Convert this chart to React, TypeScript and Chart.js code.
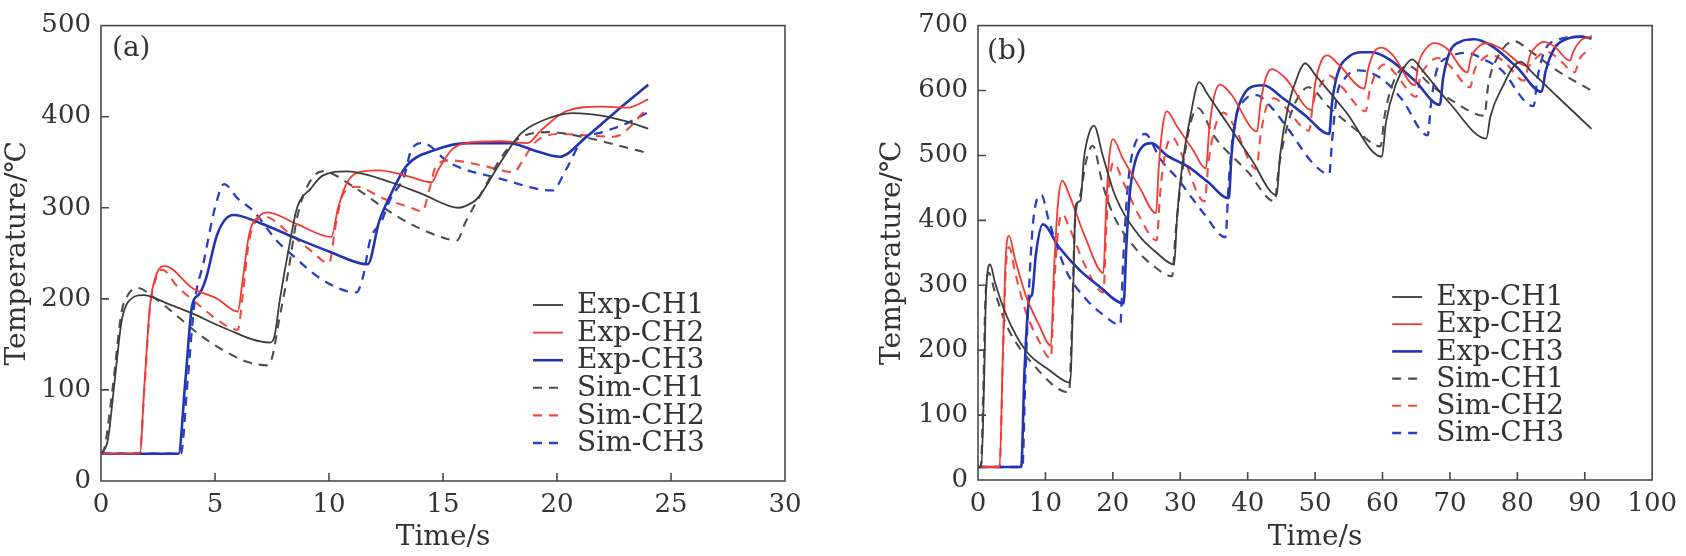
import React, { useEffect, useRef } from "react";
import { Chart, registerables } from "chart.js";

Chart.register(...registerables);

// ---------- Panel (a) data: time (s) / temperature (°C) ----------
const aExp1Time = [0, 0.3, 0.6, 0.9, 1.2, 1.85, 3.0, 4.0, 5.4, 7.4, 7.6, 7.85, 8.3, 8.6, 9.2, 9.7, 10.8, 12.7, 14.1, 15.7, 16.0, 16.5, 17.5, 18.4, 19.3, 20.7, 22.0, 23.0, 24.0];
const aExp1Temp = [30, 45, 110, 175, 197, 204, 194, 184, 168, 152, 158, 200, 264, 300, 321, 335, 340, 328, 315, 300, 302, 310, 349, 381, 395, 404, 401, 395, 387];

const aExp2Time = [0, 1.7, 1.9, 2.15, 2.45, 2.8, 4.0, 5.1, 6.0, 6.2, 6.5, 7.0, 7.3, 8.6, 10.1, 10.4, 10.8, 11.5, 12.2, 13.4, 14.5, 14.8, 15.4, 16.0, 17.5, 18.7, 19.3, 20.4, 21.9, 23.1, 24.0];
const aExp2Temp = [30, 30, 104, 193, 228, 236, 212, 200, 186, 218, 271, 292, 295, 282, 268, 300, 328, 340, 341, 335, 328, 342, 364, 371, 373, 371, 385, 406, 411, 410, 419];

const aExp3Time = [0, 3.4, 3.7, 4.0, 4.3, 4.6, 5.1, 5.8, 7.0, 8.5, 10.0, 11.7, 12.2, 12.7, 13.4, 14.6, 16.1, 17.9, 19.0, 20.1, 21.3, 22.6, 24.0];
const aExp3Temp = [30, 30, 110, 193, 205, 222, 271, 292, 283, 267, 252, 238, 285, 314, 346, 363, 371, 371, 363, 356, 378, 406, 435];

const aSim1Time = [0, 0.1, 0.5, 0.9, 1.2, 1.6, 2.3, 3.3, 4.3, 5.4, 6.4, 7.3, 7.5, 7.8, 8.2, 8.6, 9.0, 9.7, 11.2, 12.4, 13.6, 14.9, 15.6, 16.0, 16.8, 17.5, 18.2, 19.7, 21.1, 22.6, 24.0];
const aSim1Temp = [30, 32, 100, 185, 205, 212, 202, 182, 161, 143, 131, 127, 135, 175, 228, 289, 321, 340, 321, 300, 282, 268, 264, 285, 321, 353, 374, 383, 378, 369, 360];

const aSim2Time = [0, 1.7, 1.9, 2.15, 2.45, 2.7, 3.3, 4.3, 5.4, 6.0, 6.2, 6.5, 7.0, 7.2, 8.3, 9.2, 10.0, 10.3, 10.6, 11.2, 12.4, 13.6, 14.1, 14.4, 14.7, 15.3, 16.8, 18.1, 18.5, 19.0, 20.1, 22.5, 24.0];
const aSim2Temp = [30, 30, 100, 190, 225, 232, 215, 193, 172, 166, 200, 264, 289, 290, 271, 253, 239, 282, 314, 323, 310, 300, 296, 320, 346, 352, 346, 339, 352, 371, 381, 378, 410];

const aSim3Time = [0, 3.5, 3.8, 4.1, 4.5, 5.0, 5.4, 6.0, 6.7, 7.7, 8.3, 9.7, 11.2, 11.5, 11.8, 12.3, 12.7, 13.3, 13.6, 14.1, 15.3, 17.5, 19.8, 20.4, 21.1, 22.0, 23.0, 24.0];
const aSim3Temp = [30, 30, 110, 195, 240, 300, 326, 310, 296, 264, 250, 221, 207, 225, 264, 285, 310, 335, 363, 371, 349, 332, 319, 342, 374, 383, 392, 405];

// ---------- Panel (b) data ----------
const bExp1Time = [0, 0.5, 0.9, 1.2, 1.8, 2.5, 4.2, 7.1, 10.5, 13.7, 14.0, 14.5, 15.2, 15.7, 16.5, 17.2, 18.5, 20.3, 23.7, 26.5, 29.1, 29.5, 30.1, 31.5, 32.8, 34.0, 37.0, 40.5, 44.3, 44.8, 46.0, 47.5, 48.5, 50.1, 54.5, 59.9, 60.5, 62.0, 63.5, 64.4, 66.0, 70.0, 75.4, 76.0, 78.0, 79.5, 80.5, 82.0, 86.0, 91.0];
const bExp1Temp = [20, 20, 150, 290, 332, 305, 254, 199, 170, 150, 240, 424, 430, 494, 535, 546, 500, 439, 379, 350, 332, 400, 468, 560, 613, 595, 549, 495, 439, 500, 575, 625, 642, 623, 568, 498, 550, 610, 640, 648, 630, 580, 526, 560, 610, 638, 644, 630, 590, 541];

const bExp2Time = [0, 3.2, 3.7, 4.1, 4.6, 5.5, 7.1, 9.0, 10.8, 11.3, 11.9, 12.5, 13.5, 15.9, 18.6, 19.0, 19.5, 20.0, 21.5, 24.0, 26.4, 26.8, 27.4, 28.0, 29.5, 31.8, 33.8, 34.3, 35.0, 35.9, 37.5, 41.4, 41.9, 42.7, 43.6, 45.5, 49.5, 50.0, 50.9, 51.8, 53.5, 57.3, 57.8, 58.8, 59.9, 61.5, 64.8, 65.3, 66.5, 67.7, 69.5, 72.6, 73.1, 74.3, 75.5, 77.5, 81.4, 81.9, 83.0, 83.9, 85.5, 87.8, 88.3, 89.5, 91.0];
const bExp2Temp = [20, 20, 200, 340, 376, 340, 284, 240, 207, 330, 430, 461, 440, 374, 319, 420, 500, 525, 495, 450, 411, 480, 545, 568, 545, 510, 480, 540, 590, 609, 595, 537, 580, 620, 633, 620, 570, 610, 645, 654, 640, 603, 630, 660, 666, 655, 608, 640, 665, 673, 665, 628, 650, 668, 673, 665, 638, 655, 670, 675, 668, 646, 660, 678, 683];

const bExp3Time = [0, 6.4, 6.9, 7.6, 8.0, 8.6, 9.6, 12.0, 15.0, 17.9, 21.6, 22.0, 22.5, 23.3, 24.5, 25.7, 28.0, 31.1, 34.0, 37.2, 37.6, 38.3, 39.5, 41.0, 42.4, 45.0, 48.5, 52.1, 52.5, 53.3, 55.0, 57.0, 58.5, 61.0, 64.8, 68.5, 69.0, 70.0, 71.5, 73.6, 76.0, 80.0, 83.6, 84.2, 85.5, 87.5, 89.3, 91.0];
const bExp3Temp = [20, 20, 169, 279, 285, 349, 394, 359, 324, 299, 272, 360, 440, 490, 515, 519, 500, 483, 460, 434, 500, 560, 595, 607, 608, 590, 562, 533, 580, 625, 652, 659, 659, 648, 615, 578, 620, 660, 675, 679, 670, 635, 598, 630, 665, 680, 683, 680];

const bSim1Time = [0, 0.4, 0.8, 1.1, 1.6, 2.5, 4.2, 8.1, 13.5, 13.9, 14.4, 15.2, 16.0, 17.0, 18.5, 20.0, 23.5, 26.0, 28.8, 29.3, 30.0, 31.3, 32.6, 35.0, 40.0, 44.0, 44.6, 46.0, 47.5, 49.0, 52.0, 56.0, 59.7, 60.3, 61.5, 63.8, 67.0, 71.0, 75.1, 75.7, 77.0, 79.5, 82.0, 86.0, 90.8];
const bSim1Temp = [20, 20, 140, 280, 319, 290, 239, 179, 135, 230, 400, 440, 490, 515, 455, 410, 355, 330, 314, 380, 450, 540, 573, 530, 475, 429, 480, 550, 590, 605, 575, 540, 514, 560, 610, 638, 610, 580, 561, 610, 650, 676, 660, 630, 601];

const bSim2Time = [0, 3.2, 3.7, 4.1, 4.6, 5.5, 7.1, 9.0, 10.8, 11.3, 11.9, 12.5, 13.5, 15.9, 18.6, 19.0, 19.5, 20.1, 21.5, 24.0, 26.5, 27.0, 27.8, 28.8, 30.5, 33.6, 34.2, 35.2, 36.4, 38.0, 41.3, 41.9, 42.8, 43.9, 45.5, 49.1, 49.7, 50.9, 52.1, 54.0, 57.5, 58.1, 59.2, 60.3, 62.0, 65.0, 65.6, 66.9, 68.2, 70.0, 73.0, 73.6, 74.8, 76.0, 78.0, 81.0, 81.6, 83.0, 84.3, 86.0, 88.5, 89.2, 91.0];
const bSim2Temp = [20, 20, 190, 320, 359, 320, 259, 215, 187, 300, 385, 410, 390, 330, 289, 380, 460, 489, 460, 405, 369, 440, 505, 528, 495, 429, 490, 545, 566, 545, 479, 530, 575, 588, 575, 538, 580, 610, 623, 605, 568, 600, 630, 640, 625, 590, 620, 642, 650, 638, 605, 630, 648, 655, 645, 615, 635, 652, 660, 650, 628, 648, 665];

const bSim3Time = [0, 6.6, 7.0, 7.5, 8.2, 9.4, 10.5, 13.0, 16.0, 18.5, 21.1, 21.5, 22.2, 23.2, 24.8, 27.0, 29.6, 33.6, 36.7, 37.2, 38.0, 39.5, 41.3, 43.0, 46.2, 49.5, 52.1, 52.5, 53.2, 54.5, 56.5, 59.9, 62.9, 66.7, 67.2, 68.0, 70.0, 72.6, 75.0, 77.5, 82.4, 83.0, 84.0, 86.0, 89.3, 91.0];
const bSim3Temp = [20, 20, 150, 280, 400, 439, 400, 324, 279, 255, 239, 330, 450, 515, 533, 495, 464, 409, 374, 460, 545, 585, 593, 580, 538, 490, 471, 520, 590, 620, 631, 618, 586, 531, 580, 630, 652, 658, 648, 633, 576, 620, 660, 678, 683, 684];

// ---------- labels / ticks ----------
const seriesLabels = ["Exp-CH1", "Exp-CH2", "Exp-CH3", "Sim-CH1", "Sim-CH2", "Sim-CH3"];
const panelLabels = ["(a)", "(b)"];
const xTitle = "Time/s";
const yTitle = "Temperature/℃";
const aXRange = [0, 30, 5];
const aYRange = [0, 500, 100];
const bXRange = [0, 100, 10];
const bYRange = [0, 700, 100];

const FONT = "'DejaVu Serif', 'Liberation Serif', serif";
const TEXT = "#333333";

const colors = ["#3c3c3c", "#f03a32", "#2334b0", "#4e4e4e", "#f04a42", "#2a40c4"];
const widths = [1.8, 1.8, 2.6, 2.1, 2.1, 2.3];

function pts(t: number[], v: number[]) {
  return t.map((x, i) => ({ x, y: v[i] }));
}

function buildDatasets(series: [number[], number[]][]) {
  return series.map(([t, v], i) => ({
    label: seriesLabels[i],
    data: pts(t, v),
    borderColor: colors[i],
    backgroundColor: colors[i],
    borderWidth: widths[i],
    borderDash: i >= 3 ? [9, 7] : [],
    pointRadius: 0,
    fill: false,
    cubicInterpolationMode: "monotone" as const,
  }));
}

const decorPlugin = {
  id: "decor",
  afterDatasetsDraw(chart: any, _args: any, o: any) {
    const { ctx, chartArea: a, scales } = chart;
    ctx.save();
    ctx.setLineDash([]);
    ctx.strokeStyle = "#4a4a4a";
    ctx.lineWidth = 1.6;
    ctx.strokeRect(a.left, a.top, a.right - a.left, a.bottom - a.top);
    const xs = scales.x;
    const ys = scales.y;
    ctx.beginPath();
    xs.ticks.forEach((t: any) => {
      const px = xs.getPixelForValue(t.value);
      if (px > a.left + 2 && px < a.right - 2) {
        ctx.moveTo(px, a.bottom);
        ctx.lineTo(px, a.bottom - 8);
      }
    });
    ys.ticks.forEach((t: any) => {
      const py = ys.getPixelForValue(t.value);
      if (py > a.top + 2 && py < a.bottom - 2) {
        ctx.moveTo(a.left, py);
        ctx.lineTo(a.left + 8, py);
      }
    });
    ctx.stroke();

    ctx.fillStyle = TEXT;
    ctx.font = `28px ${FONT}`;
    ctx.textBaseline = "middle";
    ctx.textAlign = "left";
    ctx.fillText(o.label, a.left + o.labelDx, a.top + o.labelDy);

    chart.data.datasets.forEach((ds: any, i: number) => {
      const y = a.bottom - o.legBottom + i * o.legGap;
      const x0 = a.right - o.legRight;
      ctx.strokeStyle = ds.borderColor;
      ctx.lineWidth = ds.borderWidth;
      ctx.setLineDash(ds.borderDash || []);
      ctx.beginPath();
      ctx.moveTo(x0, y);
      ctx.lineTo(x0 + 30, y);
      ctx.stroke();
      ctx.setLineDash([]);
      ctx.fillStyle = TEXT;
      ctx.fillText(ds.label, x0 + 44, y + 1);
    });
    ctx.restore();
  },
};

function makeConfig(
  series: [number[], number[]][],
  xr: number[],
  yr: number[],
  yAxisWidth: number,
  xAxisHeight: number,
  padRight: number,
  yTitlePad: number,
  decor: any
): any {
  return {
    type: "line",
    data: { datasets: buildDatasets(series) },
    options: {
      responsive: false,
      animation: false,
      devicePixelRatio: 1,
      layout: { padding: { top: 12, right: padRight, left: 0, bottom: 0 } },
      plugins: {
        legend: { display: false },
        tooltip: { enabled: false },
        decor,
      },
      scales: {
        x: {
          type: "linear",
          min: xr[0],
          max: xr[1],
          ticks: {
            stepSize: xr[2],
            autoSkip: false,
            maxRotation: 0,
            padding: 9,
            color: TEXT,
            font: { family: FONT, size: 26 },
          },
          grid: { display: false, drawTicks: false },
          border: { display: false },
          title: {
            display: true,
            text: xTitle,
            color: TEXT,
            font: { family: FONT, size: 28 },
            padding: { top: 0, bottom: 1 },
          },
          afterFit: (s: any) => {
            s.height = xAxisHeight;
          },
        },
        y: {
          type: "linear",
          min: yr[0],
          max: yr[1],
          ticks: {
            stepSize: yr[2],
            autoSkip: false,
            padding: 10,
            color: TEXT,
            font: { family: FONT, size: 26 },
          },
          grid: { display: false, drawTicks: false },
          border: { display: false },
          title: {
            display: true,
            text: yTitle,
            color: TEXT,
            font: { family: FONT, size: 28 },
            padding: { top: yTitlePad, bottom: 0 },
          },
          afterFit: (s: any) => {
            s.width = yAxisWidth;
          },
        },
      },
    },
    plugins: [decorPlugin],
  };
}

function Panel(props: { config: any; left: number }) {
  const ref = useRef<HTMLCanvasElement | null>(null);
  useEffect(() => {
    if (!ref.current) return;
    const chart = new Chart(ref.current, props.config);
    return () => chart.destroy();
  }, []);
  return (
    <canvas
      ref={ref}
      width={843}
      height={556}
      style={{ position: "absolute", left: props.left, top: 0, width: 843, height: 556 }}
    />
  );
}

export default function App() {
  const aSeries: [number[], number[]][] = [
    [aExp1Time, aExp1Temp],
    [aExp2Time, aExp2Temp],
    [aExp3Time, aExp3Temp],
    [aSim1Time, aSim1Temp],
    [aSim2Time, aSim2Temp],
    [aSim3Time, aSim3Temp],
  ];
  const bSeries: [number[], number[]][] = [
    [bExp1Time, bExp1Temp],
    [bExp2Time, bExp2Temp],
    [bExp3Time, bExp3Temp],
    [bSim1Time, bSim1Temp],
    [bSim2Time, bSim2Temp],
    [bSim3Time, bSim3Temp],
  ];
  const cfgA = makeConfig(aSeries, aXRange, aYRange, 101, 75, 58, 1, {
    label: panelLabels[0],
    labelDx: 11,
    labelDy: 23,
    legRight: 252,
    legBottom: 176,
    legGap: 27.6,
  });
  const cfgB = makeConfig(bSeries, bXRange, bYRange, 135, 76, 26, 33, {
    label: panelLabels[1],
    labelDx: 9,
    labelDy: 26,
    legRight: 260,
    legBottom: 183,
    legGap: 27.2,
  });
  return (
    <div style={{ position: "absolute", left: 0, top: 0, width: 1686, height: 556, background: "#fff" }}>
      <Panel config={cfgA} left={0} />
      <Panel config={cfgB} left={843} />
    </div>
  );
}
